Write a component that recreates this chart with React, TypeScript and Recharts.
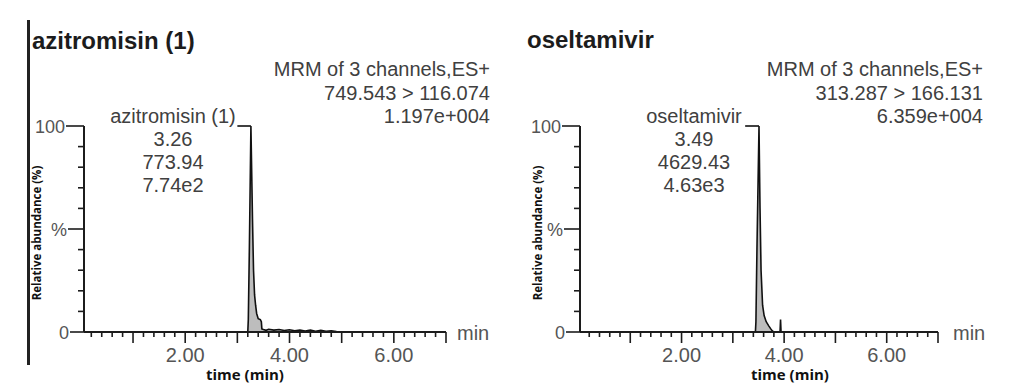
import React from 'react';
import { ComposedChart, Area, XAxis, YAxis, ReferenceLine } from 'recharts';

// ---- data ----
const azTime = [0.06, 3.19, 3.2, 3.21, 3.23, 3.26, 3.29, 3.31, 3.33, 3.35, 3.37, 3.4, 3.44, 3.46, 3.47, 3.5, 3.55, 3.6, 3.7, 3.8, 3.9, 4.0, 4.1, 4.2, 4.3, 4.4, 4.5, 4.6, 4.7, 4.8, 4.9, 5.0, 7.0];
const azAbund = [0, 0, 0, 6, 40, 100, 55, 30, 18, 13, 9, 6.5, 6, 5, 1.5, 1.2, 0.8, 1.3, 0.9, 1.2, 0.7, 1.1, 0.6, 1.0, 0.5, 0.9, 0.4, 0.8, 0.3, 0.6, 0.2, 0, 0];

const osTime = [0.02, 3.44, 3.45, 3.47, 3.51, 3.53, 3.55, 3.58, 3.61, 3.65, 3.7, 3.74, 3.77, 3.8, 3.92, 3.93, 3.94, 7.0];
const osAbund = [0, 0, 5, 40, 100, 60, 30, 13, 8, 5, 3, 1.5, 0.5, 0, 0, 6, 0, 0];

const xTicks = [0.2, 0.4, 0.6, 0.8, 1.0, 1.2, 1.4, 1.6, 1.8, 2.0, 2.2, 2.4, 2.6, 2.8, 3.0, 3.2, 3.4, 3.6, 3.8, 4.0, 4.2, 4.4, 4.6, 4.8, 5.0, 5.2, 5.4, 5.6, 5.8, 6.0, 6.2, 6.4, 6.6, 6.8, 7.0];
const xLabelValues = [2, 4, 6];
const xLabelTexts = ['2.00', '4.00', '6.00'];
const yTicks = [0, 10, 20, 30, 40, 50, 60, 70, 80, 90, 100];
const yLabelValues = [0, 50, 100];
const yLabelTexts = ['0', '%', '100'];
const yLabelTickLen = [14, 16, 18];

const azHeader = ['MRM of 3 channels,ES+', '749.543 > 116.074', '1.197e+004'];
const azPeakLabel = ['azitromisin (1)', '3.26', '773.94', '7.74e2'];
const osHeader = ['MRM of 3 channels,ES+', '313.287 > 166.131', '6.359e+004'];
const osPeakLabel = ['oseltamivir', '3.49', '4629.43', '4.63e3'];

const SANS = '"Liberation Sans", Arial, Helvetica, sans-serif';
const BOLD = '"Open Sans", "Noto Sans", sans-serif';
const INK = '#1c1c1c';
const GREY = '#404040';

const XTick = (props: any) => {
  const { x, y, payload } = props;
  const v = payload.value as number;
  const isInt = Math.abs(v - Math.round(v)) < 1e-6;
  const idx = xLabelValues.findIndex((l) => Math.abs(l - v) < 1e-6);
  return (
    <g>
      <line x1={x} x2={x} y1={y} y2={y + (isInt ? 11 : 5)} stroke={INK} strokeWidth={1.6} />
      {idx >= 0 && (
        <text x={x} y={y + 30} textAnchor="middle" fontFamily={SANS} fontSize={20} fill="#555">
          {xLabelTexts[idx]}
        </text>
      )}
    </g>
  );
};

const YTick = (props: any) => {
  const { x, y, payload } = props;
  const v = payload.value as number;
  const idx = yLabelValues.findIndex((l) => Math.abs(l - v) < 1e-6);
  const len = idx >= 0 ? yLabelTickLen[idx] : 6;
  return (
    <g>
      <line x1={x - len} x2={x} y1={y} y2={y} stroke={INK} strokeWidth={1.6} />
      {idx >= 0 && (
        <text x={x - len - 1} y={y + 6.5} textAnchor="end" fontFamily={SANS} fontSize={18} fill="#555">
          {yLabelTexts[idx]}
        </text>
      )}
    </g>
  );
};

type PanelProps = {
  time: number[];
  abund: number[];
  domainStart: number;
  peakTime: number;
  leaderStart: number;
  marginLeft: number;
  marginRight: number;
};

const Panel = ({ time, abund, domainStart, peakTime, leaderStart, marginLeft, marginRight }: PanelProps) => {
  const rows = time.map((t, i) => ({ t, v: abund[i] }));
  return (
    <ComposedChart width={500} height={387} data={rows} margin={{ top: 126, right: marginRight, bottom: 25, left: marginLeft }}>
      <XAxis
        dataKey="t"
        type="number"
        domain={[domainStart, 7.0]}
        ticks={xTicks}
        interval={0}
        tick={(p: any) => <XTick {...p} />}
        tickLine={false}
        tickSize={0}
        tickMargin={0}
        axisLine={{ stroke: INK, strokeWidth: 2 }}
        height={30}
        allowDataOverflow
      />
      <YAxis
        type="number"
        domain={[0, 100]}
        ticks={yTicks}
        interval={0}
        tick={(p: any) => <YTick {...p} />}
        tickLine={false}
        tickSize={0}
        tickMargin={0}
        axisLine={{ stroke: INK, strokeWidth: 2 }}
        width={60}
        allowDataOverflow
      />
      <Area
        type="linear"
        dataKey="v"
        stroke="#111"
        strokeWidth={1.6}
        fill="#bdbdbd"
        fillOpacity={1}
        dot={false}
        activeDot={false}
        isAnimationActive={false}
      />
      <ReferenceLine
        segment={[{ x: leaderStart, y: 100 }, { x: peakTime, y: 100 }]}
        stroke="#111"
        strokeWidth={1.6}
      />
    </ComposedChart>
  );
};

const TextBlock = ({ lines, x, y0, step, anchor, size, fill }: any) => (
  <>
    {lines.map((s: string, i: number) => (
      <text key={i} x={x} y={y0 + i * step} textAnchor={anchor} fontFamily={SANS} fontSize={size} fill={fill}>
        {s}
      </text>
    ))}
  </>
);

export default function App() {
  return (
    <div style={{ position: 'absolute', left: 0, top: 0, width: 1010, height: 387, background: '#fff', overflow: 'hidden' }}>
      <div style={{ position: 'absolute', left: 0, top: 0 }}>
        <Panel time={azTime} abund={azAbund} domainStart={0.06} peakTime={3.26} leaderStart={3.0} marginLeft={24} marginRight={54} />
      </div>
      <div style={{ position: 'absolute', left: 500, top: 0 }}>
        <Panel time={osTime} abund={osAbund} domainStart={0.02} peakTime={3.51} leaderStart={3.24} marginLeft={20} marginRight={62} />
      </div>
      <svg width={1010} height={387} style={{ position: 'absolute', left: 0, top: 0, pointerEvents: 'none' }}>
        <rect x={27} y={20} width={3} height={345} fill="#222" />
        {/* left panel */}
        <text x={32} y={49} fontFamily={SANS} fontWeight="bold" fontSize={24} fill={INK}>azitromisin (1)</text>
        <TextBlock lines={azHeader} x={490} y0={76} step={23.5} anchor="end" size={20} fill={GREY} />
        <TextBlock lines={azPeakLabel} x={173} y0={122.5} step={23} anchor="middle" size={20} fill={GREY} />
        <text x={457} y={340} fontFamily={SANS} fontSize={20} fill="#555">min</text>
        <text x={245} y={380} textAnchor="middle" fontFamily={BOLD} fontWeight="bold" fontSize={15} fill="#111">time (min)</text>
        <text transform="translate(41,233) rotate(-90)" textAnchor="middle" fontFamily={BOLD} fontWeight="bold" fontSize={11.5} fill="#111">Relative abundance (%)</text>
        {/* right panel */}
        <text x={527} y={48} fontFamily={SANS} fontWeight="bold" fontSize={24} fill={INK}>oseltamivir</text>
        <TextBlock lines={osHeader} x={983} y0={76} step={23.5} anchor="end" size={20} fill={GREY} />
        <TextBlock lines={osPeakLabel} x={694} y0={122.5} step={23} anchor="middle" size={20} fill={GREY} />
        <text x={953} y={340} fontFamily={SANS} fontSize={20} fill="#555">min</text>
        <text x={790} y={380} textAnchor="middle" fontFamily={BOLD} fontWeight="bold" fontSize={15} fill="#111">time (min)</text>
        <text transform="translate(542,233) rotate(-90)" textAnchor="middle" fontFamily={BOLD} fontWeight="bold" fontSize={11.5} fill="#111">Relative abundance (%)</text>
      </svg>
    </div>
  );
}
